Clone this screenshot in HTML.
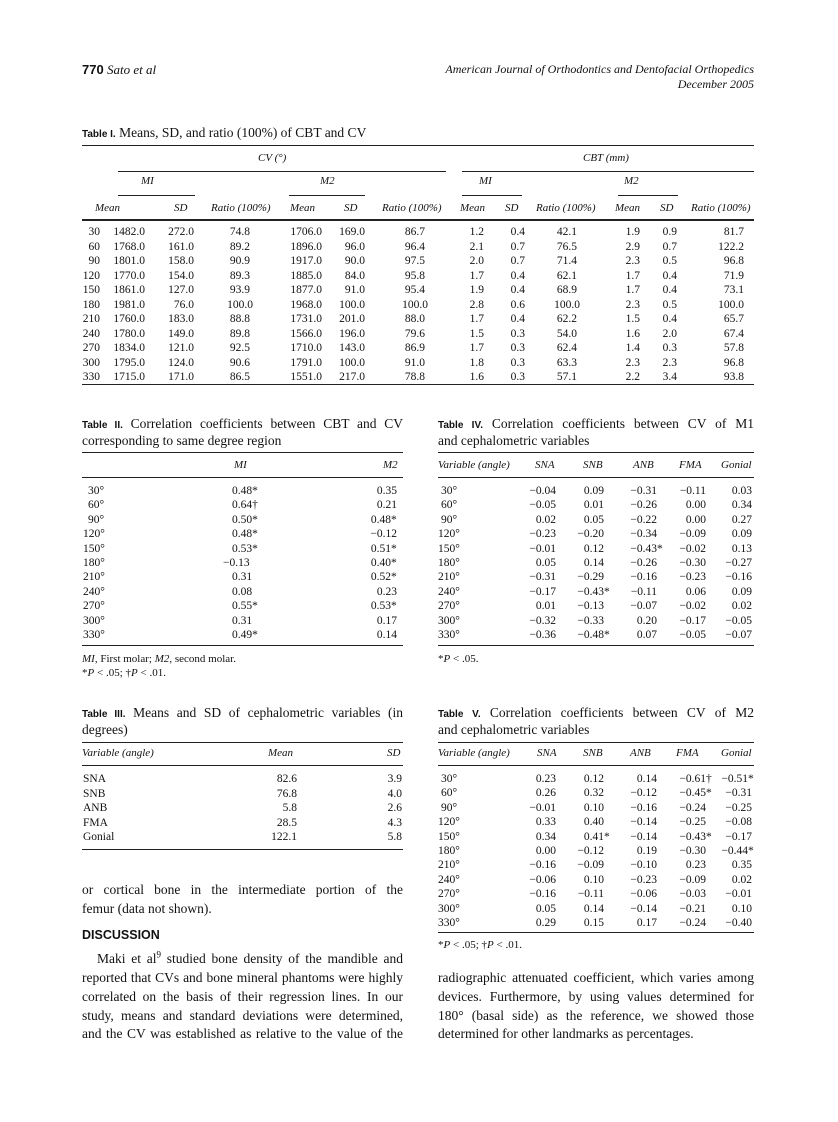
<!DOCTYPE html>
<html><head><meta charset="utf-8">
<style>
body{margin:0;background:#fff}
#p{position:relative;width:838px;height:1122px;background:#fff;font-family:"Liberation Serif",serif;color:#111;overflow:hidden}
.a{position:absolute;white-space:nowrap}
.t{position:absolute;font-size:13.5px;line-height:17px;white-space:nowrap}
.tl{font-family:"Liberation Sans",sans-serif;font-size:10px;font-weight:bold}
.h{position:absolute;height:0;border-top:1px solid #222}
.r{position:absolute;left:0;width:838px;height:14px;font-size:11.5px;line-height:14px}
.r span{position:absolute;white-space:nowrap}
.hd{position:absolute;font-size:11px;font-style:italic;white-space:nowrap;line-height:14px}
.m{position:absolute;left:100%;font-style:normal}
.j{position:absolute;font-size:13.5px;line-height:17px;text-align:justify;text-align-last:justify;white-space:nowrap}
</style></head><body><div id="p">

<div class="a" style="left:82px;top:62px;font-size:13px"><b style="font-family:'Liberation Sans',sans-serif">770</b> <i>Sato et al</i></div>
<div class="a" style="right:84px;top:62px;font-size:12px;font-style:italic;text-align:right">American Journal of Orthodontics and Dentofacial Orthopedics</div>
<div class="a" style="right:84px;top:77px;font-size:12px;font-style:italic">December 2005</div>

<!-- Table I -->
<div class="t" style="left:82px;top:124px"><span class="tl">Table I.</span> Means, SD, and ratio (100%) of CBT and CV</div>
<div class="h" style="left:82px;top:145px;width:672px"></div>
<div class="hd" style="left:258px;top:151px">CV (°)</div>
<div class="hd" style="left:583px;top:151px">CBT (mm)</div>
<div class="h" style="left:118px;top:171px;width:328px"></div>
<div class="h" style="left:462px;top:171px;width:292px"></div>
<div class="hd" style="left:141px;top:174px">MI</div>
<div class="hd" style="left:320px;top:174px">M2</div>
<div class="hd" style="left:479px;top:174px">MI</div>
<div class="hd" style="left:624px;top:174px">M2</div>
<div class="h" style="left:118px;top:195px;width:77px"></div>
<div class="h" style="left:289px;top:195px;width:76px"></div>
<div class="h" style="left:462px;top:195px;width:60px"></div>
<div class="h" style="left:618px;top:195px;width:60px"></div>
<div class="hd" style="left:95px;top:201px">Mean</div>
<div class="hd" style="left:174px;top:201px">SD</div>
<div class="hd" style="left:211px;top:201px">Ratio (100%)</div>
<div class="hd" style="left:290px;top:201px">Mean</div>
<div class="hd" style="left:344px;top:201px">SD</div>
<div class="hd" style="left:382px;top:201px">Ratio (100%)</div>
<div class="hd" style="left:460px;top:201px">Mean</div>
<div class="hd" style="left:505px;top:201px">SD</div>
<div class="hd" style="left:536px;top:201px">Ratio (100%)</div>
<div class="hd" style="left:615px;top:201px">Mean</div>
<div class="hd" style="left:660px;top:201px">SD</div>
<div class="hd" style="left:691px;top:201px">Ratio (100%)</div>
<div class="h" style="left:82px;top:219px;width:672px;border-top-width:2px"></div>

<div class="r" style="top:225px"><span style="right:738px">30</span><span style="right:693px">1482.0</span><span style="right:644px">272.0</span><span style="right:588px">74.8</span><span style="right:516px">1706.0</span><span style="right:473px">169.0</span><span style="right:413px">86.7</span><span style="right:354px">1.2</span><span style="right:313px">0.4</span><span style="right:261px">42.1</span><span style="right:198px">1.9</span><span style="right:161px">0.9</span><span style="right:94px">81.7</span></div>
<div class="r" style="top:239.5px"><span style="right:738px">60</span><span style="right:693px">1768.0</span><span style="right:644px">161.0</span><span style="right:588px">89.2</span><span style="right:516px">1896.0</span><span style="right:473px">96.0</span><span style="right:413px">96.4</span><span style="right:354px">2.1</span><span style="right:313px">0.7</span><span style="right:261px">76.5</span><span style="right:198px">2.9</span><span style="right:161px">0.7</span><span style="right:94px">122.2</span></div>
<div class="r" style="top:254px"><span style="right:738px">90</span><span style="right:693px">1801.0</span><span style="right:644px">158.0</span><span style="right:588px">90.9</span><span style="right:516px">1917.0</span><span style="right:473px">90.0</span><span style="right:413px">97.5</span><span style="right:354px">2.0</span><span style="right:313px">0.7</span><span style="right:261px">71.4</span><span style="right:198px">2.3</span><span style="right:161px">0.5</span><span style="right:94px">96.8</span></div>
<div class="r" style="top:268.5px"><span style="right:738px">120</span><span style="right:693px">1770.0</span><span style="right:644px">154.0</span><span style="right:588px">89.3</span><span style="right:516px">1885.0</span><span style="right:473px">84.0</span><span style="right:413px">95.8</span><span style="right:354px">1.7</span><span style="right:313px">0.4</span><span style="right:261px">62.1</span><span style="right:198px">1.7</span><span style="right:161px">0.4</span><span style="right:94px">71.9</span></div>
<div class="r" style="top:283px"><span style="right:738px">150</span><span style="right:693px">1861.0</span><span style="right:644px">127.0</span><span style="right:588px">93.9</span><span style="right:516px">1877.0</span><span style="right:473px">91.0</span><span style="right:413px">95.4</span><span style="right:354px">1.9</span><span style="right:313px">0.4</span><span style="right:261px">68.9</span><span style="right:198px">1.7</span><span style="right:161px">0.4</span><span style="right:94px">73.1</span></div>
<div class="r" style="top:297.5px"><span style="right:738px">180</span><span style="right:693px">1981.0</span><span style="right:644px">76.0</span><span style="right:585px">100.0</span><span style="right:516px">1968.0</span><span style="right:473px">100.0</span><span style="right:410px">100.0</span><span style="right:354px">2.8</span><span style="right:313px">0.6</span><span style="right:258px">100.0</span><span style="right:198px">2.3</span><span style="right:161px">0.5</span><span style="right:94px">100.0</span></div>
<div class="r" style="top:312px"><span style="right:738px">210</span><span style="right:693px">1760.0</span><span style="right:644px">183.0</span><span style="right:588px">88.8</span><span style="right:516px">1731.0</span><span style="right:473px">201.0</span><span style="right:413px">88.0</span><span style="right:354px">1.7</span><span style="right:313px">0.4</span><span style="right:261px">62.2</span><span style="right:198px">1.5</span><span style="right:161px">0.4</span><span style="right:94px">65.7</span></div>
<div class="r" style="top:326.5px"><span style="right:738px">240</span><span style="right:693px">1780.0</span><span style="right:644px">149.0</span><span style="right:588px">89.8</span><span style="right:516px">1566.0</span><span style="right:473px">196.0</span><span style="right:413px">79.6</span><span style="right:354px">1.5</span><span style="right:313px">0.3</span><span style="right:261px">54.0</span><span style="right:198px">1.6</span><span style="right:161px">2.0</span><span style="right:94px">67.4</span></div>
<div class="r" style="top:341px"><span style="right:738px">270</span><span style="right:693px">1834.0</span><span style="right:644px">121.0</span><span style="right:588px">92.5</span><span style="right:516px">1710.0</span><span style="right:473px">143.0</span><span style="right:413px">86.9</span><span style="right:354px">1.7</span><span style="right:313px">0.3</span><span style="right:261px">62.4</span><span style="right:198px">1.4</span><span style="right:161px">0.3</span><span style="right:94px">57.8</span></div>
<div class="r" style="top:355.5px"><span style="right:738px">300</span><span style="right:693px">1795.0</span><span style="right:644px">124.0</span><span style="right:588px">90.6</span><span style="right:516px">1791.0</span><span style="right:473px">100.0</span><span style="right:413px">91.0</span><span style="right:354px">1.8</span><span style="right:313px">0.3</span><span style="right:261px">63.3</span><span style="right:198px">2.3</span><span style="right:161px">2.3</span><span style="right:94px">96.8</span></div>
<div class="r" style="top:370px"><span style="right:738px">330</span><span style="right:693px">1715.0</span><span style="right:644px">171.0</span><span style="right:588px">86.5</span><span style="right:516px">1551.0</span><span style="right:473px">217.0</span><span style="right:413px">78.8</span><span style="right:354px">1.6</span><span style="right:313px">0.3</span><span style="right:261px">57.1</span><span style="right:198px">2.2</span><span style="right:161px">3.4</span><span style="right:94px">93.8</span></div>
<div class="h" style="left:82px;top:384px;width:672px"></div>

<!-- Table II -->
<div class="j" style="left:82px;top:415px;width:321px"><span class="tl">Table II.</span> Correlation coefficients between CBT and CV</div>
<div class="t" style="left:82px;top:432px">corresponding to same degree region</div>
<div class="h" style="left:82px;top:452px;width:321px"></div>
<div class="hd" style="left:234px;top:458px">MI</div>
<div class="hd" style="left:383px;top:458px">M2</div>
<div class="h" style="left:82px;top:477px;width:321px"></div>
<div class="r" style="top:484px"><span style="left:88px">30°</span><span style="left:232px">0.48<i class="m">*</i></span><span style="right:441px">0.35</span></div>
<div class="r" style="top:498.4px"><span style="left:88px">60°</span><span style="left:232px">0.64<i class="m">†</i></span><span style="right:441px">0.21</span></div>
<div class="r" style="top:512.8px"><span style="left:88px">90°</span><span style="left:232px">0.50<i class="m">*</i></span><span style="right:447px">0.48<i class="m">*</i></span></div>
<div class="r" style="top:527.2px"><span style="left:83px">120°</span><span style="left:232px">0.48<i class="m">*</i></span><span style="right:441px">−0.12</span></div>
<div class="r" style="top:541.6px"><span style="left:83px">150°</span><span style="left:232px">0.53<i class="m">*</i></span><span style="right:447px">0.51<i class="m">*</i></span></div>
<div class="r" style="top:556px"><span style="left:83px">180°</span><span style="left:223px">−0.13</span><span style="right:447px">0.40<i class="m">*</i></span></div>
<div class="r" style="top:570.4px"><span style="left:83px">210°</span><span style="left:232px">0.31</span><span style="right:447px">0.52<i class="m">*</i></span></div>
<div class="r" style="top:584.8px"><span style="left:83px">240°</span><span style="left:232px">0.08</span><span style="right:441px">0.23</span></div>
<div class="r" style="top:599.2px"><span style="left:83px">270°</span><span style="left:232px">0.55<i class="m">*</i></span><span style="right:447px">0.53<i class="m">*</i></span></div>
<div class="r" style="top:613.6px"><span style="left:83px">300°</span><span style="left:232px">0.31</span><span style="right:441px">0.17</span></div>
<div class="r" style="top:628px"><span style="left:83px">330°</span><span style="left:232px">0.49<i class="m">*</i></span><span style="right:441px">0.14</span></div>
<div class="h" style="left:82px;top:645px;width:321px"></div>
<div class="a" style="left:82px;top:653px;font-size:11px"><i>MI</i>, First molar; <i>M2</i>, second molar.</div>
<div class="a" style="left:82px;top:667px;font-size:11px">*<i>P</i> &lt; .05; †<i>P</i> &lt; .01.</div>

<!-- Table IV -->
<div class="j" style="left:438px;top:415px;width:316px"><span class="tl">Table IV.</span> Correlation coefficients between CV of M1</div>
<div class="t" style="left:438px;top:432px">and cephalometric variables</div>
<div class="h" style="left:438px;top:452px;width:316px"></div>
<div class="hd" style="left:438px;top:458px">Variable (angle)</div>
<div class="hd" style="left:535px;top:458px">SNA</div>
<div class="hd" style="left:583px;top:458px">SNB</div>
<div class="hd" style="left:633px;top:458px">ANB</div>
<div class="hd" style="left:679px;top:458px">FMA</div>
<div class="hd" style="left:721px;top:458px">Gonial</div>
<div class="h" style="left:438px;top:477px;width:316px"></div>
<div class="r" style="top:484px"><span style="left:441px">30°</span><span style="right:282px">−0.04</span><span style="right:234px">0.09</span><span style="right:181px">−0.31</span><span style="right:132px">−0.11</span><span style="right:86px">0.03</span></div>
<div class="r" style="top:498.4px"><span style="left:441px">60°</span><span style="right:282px">−0.05</span><span style="right:234px">0.01</span><span style="right:181px">−0.26</span><span style="right:132px">0.00</span><span style="right:86px">0.34</span></div>
<div class="r" style="top:512.8px"><span style="left:441px">90°</span><span style="right:282px">0.02</span><span style="right:234px">0.05</span><span style="right:181px">−0.22</span><span style="right:132px">0.00</span><span style="right:86px">0.27</span></div>
<div class="r" style="top:527.2px"><span style="left:438px">120°</span><span style="right:282px">−0.23</span><span style="right:234px">−0.20</span><span style="right:181px">−0.34</span><span style="right:132px">−0.09</span><span style="right:86px">0.09</span></div>
<div class="r" style="top:541.6px"><span style="left:438px">150°</span><span style="right:282px">−0.01</span><span style="right:234px">0.12</span><span style="right:181px">−0.43<i class="m">*</i></span><span style="right:132px">−0.02</span><span style="right:86px">0.13</span></div>
<div class="r" style="top:556px"><span style="left:438px">180°</span><span style="right:282px">0.05</span><span style="right:234px">0.14</span><span style="right:181px">−0.26</span><span style="right:132px">−0.30</span><span style="right:86px">−0.27</span></div>
<div class="r" style="top:570.4px"><span style="left:438px">210°</span><span style="right:282px">−0.31</span><span style="right:234px">−0.29</span><span style="right:181px">−0.16</span><span style="right:132px">−0.23</span><span style="right:86px">−0.16</span></div>
<div class="r" style="top:584.8px"><span style="left:438px">240°</span><span style="right:282px">−0.17</span><span style="right:234px">−0.43<i class="m">*</i></span><span style="right:181px">−0.11</span><span style="right:132px">0.06</span><span style="right:86px">0.09</span></div>
<div class="r" style="top:599.2px"><span style="left:438px">270°</span><span style="right:282px">0.01</span><span style="right:234px">−0.13</span><span style="right:181px">−0.07</span><span style="right:132px">−0.02</span><span style="right:86px">0.02</span></div>
<div class="r" style="top:613.6px"><span style="left:438px">300°</span><span style="right:282px">−0.32</span><span style="right:234px">−0.33</span><span style="right:181px">0.20</span><span style="right:132px">−0.17</span><span style="right:86px">−0.05</span></div>
<div class="r" style="top:628px"><span style="left:438px">330°</span><span style="right:282px">−0.36</span><span style="right:234px">−0.48<i class="m">*</i></span><span style="right:181px">0.07</span><span style="right:132px">−0.05</span><span style="right:86px">−0.07</span></div>
<div class="h" style="left:438px;top:645px;width:316px"></div>
<div class="a" style="left:438px;top:653px;font-size:11px">*<i>P</i> &lt; .05.</div>

<!-- Table III -->
<div class="j" style="left:82px;top:704px;width:321px"><span class="tl">Table III.</span> Means and SD of cephalometric variables (in</div>
<div class="t" style="left:82px;top:721px">degrees)</div>
<div class="h" style="left:82px;top:742px;width:321px"></div>
<div class="hd" style="left:82px;top:746px">Variable (angle)</div>
<div class="hd" style="left:268px;top:746px">Mean</div>
<div class="hd" style="left:387px;top:746px">SD</div>
<div class="h" style="left:82px;top:765px;width:321px"></div>
<div class="r" style="top:772px"><span style="left:83px">SNA</span><span style="right:541px">82.6</span><span style="right:436px">3.9</span></div>
<div class="r" style="top:786.5px"><span style="left:83px">SNB</span><span style="right:541px">76.8</span><span style="right:436px">4.0</span></div>
<div class="r" style="top:801px"><span style="left:83px">ANB</span><span style="right:541px">5.8</span><span style="right:436px">2.6</span></div>
<div class="r" style="top:815.5px"><span style="left:83px">FMA</span><span style="right:541px">28.5</span><span style="right:436px">4.3</span></div>
<div class="r" style="top:830px"><span style="left:83px">Gonial</span><span style="right:541px">122.1</span><span style="right:436px">5.8</span></div>
<div class="h" style="left:82px;top:849px;width:321px"></div>

<!-- Table V -->
<div class="j" style="left:438px;top:704px;width:316px"><span class="tl">Table V.</span> Correlation coefficients between CV of M2</div>
<div class="t" style="left:438px;top:721px">and cephalometric variables</div>
<div class="h" style="left:438px;top:742px;width:316px"></div>
<div class="hd" style="left:438px;top:746px">Variable (angle)</div>
<div class="hd" style="left:537px;top:746px">SNA</div>
<div class="hd" style="left:583px;top:746px">SNB</div>
<div class="hd" style="left:630px;top:746px">ANB</div>
<div class="hd" style="left:676px;top:746px">FMA</div>
<div class="hd" style="left:721px;top:746px">Gonial</div>
<div class="h" style="left:438px;top:765px;width:316px"></div>
<div class="r" style="top:772px"><span style="left:441px">30°</span><span style="right:282px">0.23</span><span style="right:234px">0.12</span><span style="right:181px">0.14</span><span style="right:132px">−0.61<i class="m">†</i></span><span style="right:90px">−0.51<i class="m">*</i></span></div>
<div class="r" style="top:786.4px"><span style="left:441px">60°</span><span style="right:282px">0.26</span><span style="right:234px">0.32</span><span style="right:181px">−0.12</span><span style="right:132px">−0.45<i class="m">*</i></span><span style="right:86px">−0.31</span></div>
<div class="r" style="top:800.8px"><span style="left:441px">90°</span><span style="right:282px">−0.01</span><span style="right:234px">0.10</span><span style="right:181px">−0.16</span><span style="right:132px">−0.24</span><span style="right:86px">−0.25</span></div>
<div class="r" style="top:815.2px"><span style="left:438px">120°</span><span style="right:282px">0.33</span><span style="right:234px">0.40</span><span style="right:181px">−0.14</span><span style="right:132px">−0.25</span><span style="right:86px">−0.08</span></div>
<div class="r" style="top:829.6px"><span style="left:438px">150°</span><span style="right:282px">0.34</span><span style="right:234px">0.41<i class="m">*</i></span><span style="right:181px">−0.14</span><span style="right:132px">−0.43<i class="m">*</i></span><span style="right:86px">−0.17</span></div>
<div class="r" style="top:844px"><span style="left:438px">180°</span><span style="right:282px">0.00</span><span style="right:234px">−0.12</span><span style="right:181px">0.19</span><span style="right:132px">−0.30</span><span style="right:90px">−0.44<i class="m">*</i></span></div>
<div class="r" style="top:858.4px"><span style="left:438px">210°</span><span style="right:282px">−0.16</span><span style="right:234px">−0.09</span><span style="right:181px">−0.10</span><span style="right:132px">0.23</span><span style="right:86px">0.35</span></div>
<div class="r" style="top:872.8px"><span style="left:438px">240°</span><span style="right:282px">−0.06</span><span style="right:234px">0.10</span><span style="right:181px">−0.23</span><span style="right:132px">−0.09</span><span style="right:86px">0.02</span></div>
<div class="r" style="top:887.2px"><span style="left:438px">270°</span><span style="right:282px">−0.16</span><span style="right:234px">−0.11</span><span style="right:181px">−0.06</span><span style="right:132px">−0.03</span><span style="right:86px">−0.01</span></div>
<div class="r" style="top:901.6px"><span style="left:438px">300°</span><span style="right:282px">0.05</span><span style="right:234px">0.14</span><span style="right:181px">−0.14</span><span style="right:132px">−0.21</span><span style="right:86px">0.10</span></div>
<div class="r" style="top:916px"><span style="left:438px">330°</span><span style="right:282px">0.29</span><span style="right:234px">0.15</span><span style="right:181px">0.17</span><span style="right:132px">−0.24</span><span style="right:86px">−0.40</span></div>
<div class="h" style="left:438px;top:932px;width:316px"></div>
<div class="a" style="left:438px;top:939px;font-size:11px">*<i>P</i> &lt; .05; †<i>P</i> &lt; .01.</div>

<!-- Body text -->
<div class="j" style="left:82px;top:881px;width:321px">or cortical bone in the intermediate portion of the</div>
<div class="t" style="left:82px;top:900px">femur (data not shown).</div>
<div class="a" style="left:82px;top:928px;font-family:'Liberation Sans',sans-serif;font-weight:bold;font-size:12.5px">DISCUSSION</div>
<div class="j" style="left:97px;top:950px;width:306px">Maki et al<sup style="font-size:9px;line-height:0">9</sup> studied bone density of the mandible and</div>
<div class="j" style="left:82px;top:969px;width:321px">reported that CVs and bone mineral phantoms were highly</div>
<div class="j" style="left:82px;top:988px;width:321px">correlated on the basis of their regression lines. In our</div>
<div class="j" style="left:82px;top:1007px;width:321px">study, means and standard deviations were determined,</div>
<div class="j" style="left:82px;top:1025px;width:321px">and the CV was established as relative to the value of the</div>

<div class="j" style="left:438px;top:969px;width:316px">radiographic attenuated coefficient, which varies among</div>
<div class="j" style="left:438px;top:988px;width:316px">devices. Furthermore, by using values determined for</div>
<div class="j" style="left:438px;top:1007px;width:316px">180° (basal side) as the reference, we showed those</div>
<div class="t" style="left:438px;top:1025px">determined for other landmarks as percentages.</div>

</div></body></html>
